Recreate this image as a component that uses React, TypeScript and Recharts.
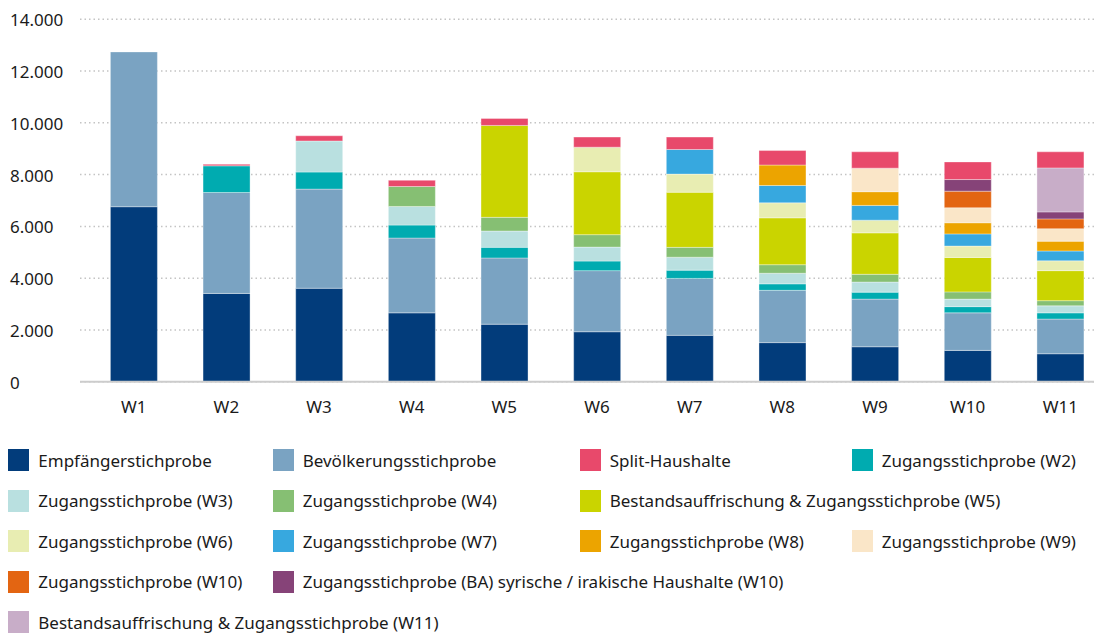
import React from 'react';
import { BarChart, Bar, XAxis, YAxis, CartesianGrid } from 'recharts';

const FONT = '"Noto Sans", sans-serif';

const waves = ['W1', 'W2', 'W3', 'W4', 'W5', 'W6', 'W7', 'W8', 'W9', 'W10', 'W11'];
const yTicks = [0, 2000, 4000, 6000, 8000, 10000, 12000, 14000];

// values per wave
const empfaenger = [6760, 3410, 3610, 2660, 2220, 1930, 1790, 1510, 1350, 1210, 1080];
const bevoelkerung = [5980, 3900, 3830, 2890, 2560, 2360, 2200, 2020, 1840, 1450, 1340];
const zugangW2 = [0, 1030, 660, 500, 410, 370, 320, 250, 270, 240, 240];
const zugangW3 = [0, 0, 1200, 720, 630, 540, 500, 410, 390, 290, 270];
const zugangW4 = [0, 0, 0, 770, 530, 480, 380, 330, 300, 280, 200];
const auffrischungW5 = [0, 0, 0, 0, 3550, 2430, 2130, 1810, 1600, 1330, 1160];
const zugangW6 = [0, 0, 0, 0, 0, 950, 700, 580, 490, 440, 380];
const zugangW7 = [0, 0, 0, 0, 0, 0, 950, 670, 570, 470, 380];
const zugangW8 = [0, 0, 0, 0, 0, 0, 0, 790, 530, 430, 380];
const zugangW9 = [0, 0, 0, 0, 0, 0, 0, 0, 910, 580, 480];
const zugangW10 = [0, 0, 0, 0, 0, 0, 0, 0, 0, 640, 380];
const zugangBA = [0, 0, 0, 0, 0, 0, 0, 0, 0, 450, 270];
const auffrischungW11 = [0, 0, 0, 0, 0, 0, 0, 0, 0, 0, 1700];
const split = [0, 60, 200, 240, 270, 390, 480, 560, 630, 680, 620];

// legend order
const series = [
  { key: 'empfaenger', name: 'Empfängerstichprobe', color: '#023c7b', values: empfaenger },
  { key: 'bevoelkerung', name: 'Bevölkerungsstichprobe', color: '#7aa3c2', values: bevoelkerung },
  { key: 'split', name: 'Split-Haushalte', color: '#e8496b', values: split },
  { key: 'zw2', name: 'Zugangsstichprobe (W2)', color: '#00abb0', values: zugangW2 },
  { key: 'zw3', name: 'Zugangsstichprobe (W3)', color: '#b9e0e0', values: zugangW3 },
  { key: 'zw4', name: 'Zugangsstichprobe (W4)', color: '#86bf73', values: zugangW4 },
  { key: 'w5', name: 'Bestandsauffrischung & Zugangsstichprobe (W5)', color: '#cad400', values: auffrischungW5, span: 2 },
  { key: 'zw6', name: 'Zugangsstichprobe (W6)', color: '#e8edb2', values: zugangW6 },
  { key: 'zw7', name: 'Zugangsstichprobe (W7)', color: '#37a8df', values: zugangW7 },
  { key: 'zw8', name: 'Zugangsstichprobe (W8)', color: '#eca400', values: zugangW8 },
  { key: 'zw9', name: 'Zugangsstichprobe (W9)', color: '#fae6c8', values: zugangW9 },
  { key: 'zw10', name: 'Zugangsstichprobe (W10)', color: '#e36512', values: zugangW10 },
  { key: 'ba', name: 'Zugangsstichprobe (BA) syrische / irakische Haushalte (W10)', color: '#864378', values: zugangBA, span: 3 },
  { key: 'w11', name: 'Bestandsauffrischung & Zugangsstichprobe (W11)', color: '#c8adc8', values: auffrischungW11, span: 4 },
];

// bottom to top in the stack
const stackOrder = ['empfaenger', 'bevoelkerung', 'zw2', 'zw3', 'zw4', 'w5', 'zw6', 'zw7', 'zw8', 'zw9', 'zw10', 'ba', 'w11', 'split'];

const data = waves.map((wave, i) => {
  const row: Record<string, string | number> = { wave };
  series.forEach(s => { row[s.key] = s.values[i]; });
  return row;
});

const fmt = (v: number) => String(v).replace(/\B(?=(\d{3})+(?!\d))/g, '.');

const YTick = ({ y, payload }: any) => (
  <text x={10} y={y} dy={7} textAnchor="start" fill="#1a1a1a" fontSize={17} fontFamily={FONT}>
    {fmt(payload.value)}
  </text>
);

const XTick = ({ x, y, payload }: any) => (
  <text x={x} y={y + 31.5} textAnchor="middle" fill="#1a1a1a" fontSize={17} fontFamily={FONT}>
    {payload.value}
  </text>
);

export default function App() {
  return (
    <div style={{ position: 'relative', width: 1094, height: 634, fontFamily: FONT, background: '#fff' }}>
      <style>{'body{margin:0}'}</style>
      <BarChart
        width={1094}
        height={440}
        data={data}
        margin={{ top: 19.3, right: 0, left: 0, bottom: 0 }}
      >
        <CartesianGrid vertical={false} stroke="#c4c4c4" strokeDasharray="1.5 3" strokeWidth={1.5} />
        <XAxis
          dataKey="wave"
          height={58.3}
          tickSize={0}
          tickMargin={0}
          tickLine={false}
          axisLine={{ stroke: '#cccccc', strokeWidth: 2 }}
          padding={{ left: 7.4, right: -12.6 }}
          tick={<XTick />}
          interval={0}
        />
        <YAxis
          width={80}
          domain={[0, 14000]}
          ticks={yTicks}
          axisLine={false}
          tickLine={false}
          tick={<YTick />}
        />
        {stackOrder.map(key => {
          const s = series.find(item => item.key === key)!;
          return (
            <Bar
              key={key}
              dataKey={key}
              name={s.name}
              stackId="a"
              fill={s.color}
              barSize={47}
              stroke="rgba(255,255,255,0.35)"
              strokeWidth={1}
              isAnimationActive={false}
            />
          );
        })}
      </BarChart>
      <div
        style={{
          position: 'absolute',
          top: 440.3,
          left: 8.3,
          display: 'grid',
          gridTemplateColumns: '264.4px 307px 272px 242px',
          gridAutoRows: '40.4px',
          alignItems: 'center',
        }}
      >
        {series.map(s => (
          <div
            key={s.key}
            style={{ display: 'flex', alignItems: 'center', gridColumn: s.span ? `span ${s.span}` : undefined, whiteSpace: 'nowrap' }}
          >
            <span style={{ display: 'inline-block', width: 21, height: 22, background: s.color, marginRight: 9, flexShrink: 0 }} />
            <span style={{ fontSize: 17, color: '#1a1a1a' }}>{s.name}</span>
          </div>
        ))}
      </div>
    </div>
  );
}
